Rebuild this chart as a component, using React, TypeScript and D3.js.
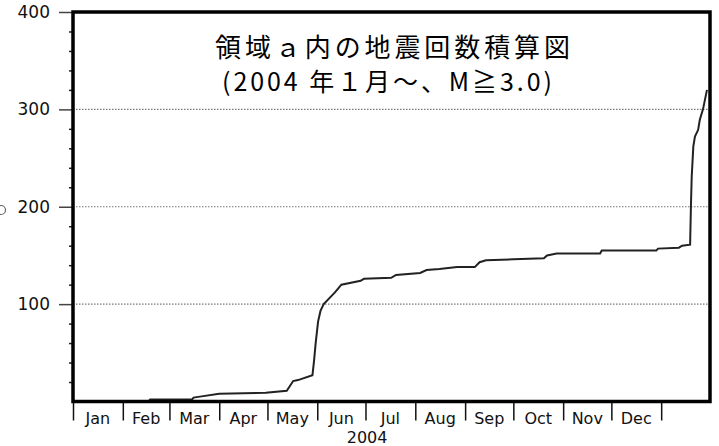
import React, { useEffect, useRef } from 'react';
import * as d3 from 'd3';

// cumulative count readings (date, count)
const dates = [
  '2004-01-01T00', '2004-02-17T00', '2004-02-18T00', '2004-03-15T00', '2004-03-16T00',
  '2004-03-20T00', '2004-04-01T00', '2004-04-30T00', '2004-05-13T00', '2004-05-17T00',
  '2004-05-20T00', '2004-05-29T00', '2004-05-30T00', '2004-05-31T00', '2004-06-01T12',
  '2004-06-03T00', '2004-06-05T00', '2004-06-12T00', '2004-06-16T00', '2004-06-28T00',
  '2004-06-30T00', '2004-07-17T00', '2004-07-20T00', '2004-08-04T00', '2004-08-08T00',
  '2004-08-16T00', '2004-08-27T00', '2004-09-07T00', '2004-09-10T00', '2004-09-14T00',
  '2004-10-01T00', '2004-10-20T00', '2004-10-22T00', '2004-10-28T00', '2004-11-24T00',
  '2004-11-25T00', '2004-12-29T00', '2004-12-30T00', '2005-01-12T00', '2005-01-14T00',
  '2005-01-19T00', '2005-01-19T12', '2005-01-20T00', '2005-01-21T00', '2005-01-22T00',
  '2005-01-24T00', '2005-01-25T00', '2005-01-27T00', '2005-01-29T12',
];
const counts = [
  0, 0, 2, 2, 4,
  5, 8, 9, 11, 21,
  22, 27, 42, 60, 82,
  93, 100, 112, 120, 124,
  126, 127, 130, 132, 135,
  136, 138, 138, 143, 145,
  146, 147, 150, 152, 152,
  155, 155, 157, 158, 160,
  161, 200, 231, 262, 272,
  279, 289, 300, 320,
];

const monthLabels = ['Jan', 'Feb', 'Mar', 'Apr', 'May', 'Jun', 'Jul', 'Aug', 'Sep', 'Oct', 'Nov', 'Dec'];
const yearLabel = '2004';
const yTicks = [100, 200, 300, 400];
const gridLines = [100, 200, 300];
const titleLines = ['領域ａ内の地震回数積算図', '(2004 年１月～、M≧3.0)'];

const App: React.FC = () => {
  const ref = useRef<SVGSVGElement | null>(null);

  useEffect(() => {
    if (!ref.current) return;
    const svg = d3.select(ref.current);
    svg.selectAll('*').remove();

    const parse = d3.timeParse('%Y-%m-%dT%H');
    const data = dates.map((d, i) => ({ date: parse(d) as Date, count: counts[i] }));

    const x = d3.scaleTime()
      .domain([new Date(2004, 0, 1), new Date(2005, 1, 1)])
      .range([73, 711]);
    const y = d3.scaleLinear().domain([0, 400]).range([401.5, 12]);

    const left = 73, right = 710, top = 12, bottom = 401.5;

    // dotted grid
    svg.append('g')
      .selectAll('line')
      .data(gridLines)
      .enter().append('line')
      .attr('x1', left).attr('x2', right)
      .attr('y1', d => y(d)).attr('y2', d => y(d))
      .attr('stroke', '#777')
      .attr('stroke-width', 1.2)
      .attr('stroke-dasharray', '1.5,1.5');

    // y axis: minor ticks every 20
    const minor = d3.range(20, 400, 20).filter(v => v % 100 !== 0);
    svg.append('g')
      .attr('transform', `translate(${left},0)`)
      .call(d3.axisLeft(y).tickValues(minor).tickSize(4).tickFormat(() => ''))
      .call(g => g.select('.domain').remove())
      .selectAll('line').attr('stroke', '#222').attr('stroke-width', 1.5);

    const yAxis = svg.append('g')
      .attr('transform', `translate(${left},0)`)
      .call(d3.axisLeft(y).tickValues(yTicks).tickSize(14).tickPadding(9).tickFormat(d3.format('d')));
    yAxis.select('.domain').remove();
    yAxis.selectAll('line').attr('stroke', '#444').attr('stroke-width', 1.5);
    yAxis.selectAll('text')
      .attr('font-family', 'DejaVu Sans, sans-serif')
      .attr('font-size', 17)
      .attr('fill', '#111');

    // x axis month ticks
    const xAxis = svg.append('g')
      .attr('transform', `translate(0,${bottom})`)
      .call(d3.axisBottom(x)
        .tickValues(d3.timeMonth.range(new Date(2004, 0, 1), new Date(2005, 0, 2)))
        .tickSize(19)
        .tickFormat(() => ''));
    xAxis.select('.domain').remove();
    xAxis.selectAll('line').attr('stroke', '#111').attr('stroke-width', 1.5);

    const months = d3.timeMonth.range(new Date(2004, 0, 1), new Date(2005, 0, 1));
    svg.append('g')
      .selectAll('text')
      .data(months)
      .enter().append('text')
      .attr('x', d => (x(d) + x(d3.timeMonth.offset(d, 1))) / 2)
      .attr('y', 418)
      .attr('dy', '0.35em')
      .attr('text-anchor', 'middle')
      .attr('font-family', 'DejaVu Sans, sans-serif')
      .attr('font-size', 16)
      .attr('fill', '#111')
      .text((d, i) => monthLabels[i]);

    svg.append('text')
      .attr('x', x(new Date(2004, 6, 2)))
      .attr('y', 437)
      .attr('dy', '0.35em')
      .attr('text-anchor', 'middle')
      .attr('font-family', 'DejaVu Sans, sans-serif')
      .attr('font-size', 16)
      .attr('fill', '#111')
      .text(yearLabel);

    // cumulative line
    const line = d3.line<{ date: Date; count: number }>()
      .x(d => x(d.date))
      .y(d => y(d.count));
    svg.append('path')
      .datum(data)
      .attr('d', line)
      .attr('fill', 'none')
      .attr('stroke', '#222')
      .attr('stroke-width', 2);

    // frame
    svg.append('rect')
      .attr('x', left).attr('y', top)
      .attr('width', right - left).attr('height', bottom - top)
      .attr('fill', 'none')
      .attr('stroke', '#000')
      .attr('stroke-width', 3.5);

    // clipped leftover of the y label
    svg.append('circle')
      .attr('cx', 1).attr('cy', 210).attr('r', 4.5)
      .attr('fill', 'none').attr('stroke', '#666').attr('stroke-width', 1.2);

    // title
    svg.append('text')
      .attr('x', 215).attr('y', 45)
      .attr('dominant-baseline', 'central')
      .attr('font-family', '"Noto Sans CJK JP", sans-serif')
      .attr('font-size', 26)
      .attr('textLength', 355)
      .attr('lengthAdjust', 'spacing')
      .attr('fill', '#000')
      .text(titleLines[0]);
    svg.append('text')
      .attr('x', 222).attr('y', 80)
      .attr('dominant-baseline', 'central')
      .attr('font-family', '"Noto Sans CJK JP", sans-serif')
      .attr('font-size', 25)
      .attr('textLength', 330)
      .attr('lengthAdjust', 'spacing')
      .attr('fill', '#000')
      .text(titleLines[1]);
  }, []);

  return (
    <svg
      ref={ref}
      width={719}
      height={446}
      style={{ position: 'absolute', left: 0, top: 0, background: '#fff' }}
    />
  );
};

export default App;
